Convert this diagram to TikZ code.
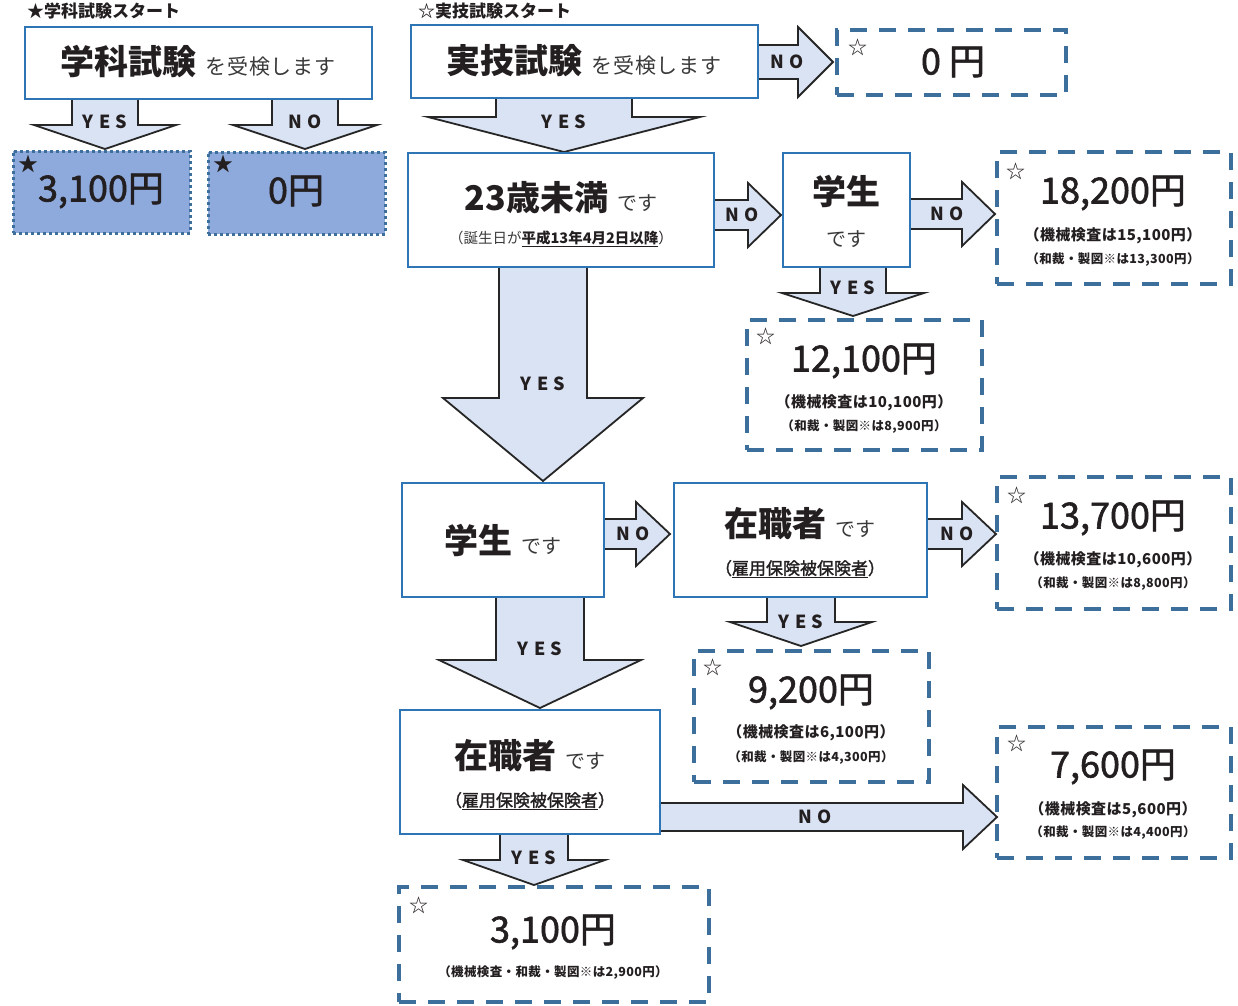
\documentclass[tikz,border=0pt]{standalone}
\usepackage{fontspec}
\setmainfont{Noto Sans CJK JP}
\newfontfamily\jplbl[LetterSpace=30]{Noto Sans CJK JP}
\newfontfamily\jpmed[FakeBold=1.6]{Noto Sans CJK JP}
\newfontfamily\jpsub[LetterSpace=3]{Noto Sans CJK JP}
\definecolor{boxblue}{HTML}{2E75B6}
\definecolor{dashblue}{HTML}{3D6F9C}
\definecolor{arrfill}{HTML}{DAE3F3}
\definecolor{starfill}{HTML}{8EA9DB}
\definecolor{txt}{HTML}{231F20}
\definecolor{soft}{HTML}{3A3A3A}
\newcommand\fs[1]{\fontsize{#1}{#1}\selectfont}
\newcommand\DArr[9]{% name, cx, ytop, shaft half, y shaft end, head half, y tip, label, label y
  \draw[arr] ({#2-#4},#3) -- ({#2+#4},#3) -- ({#2+#4},#5) -- ({#2+#6},#5) -- (#2,#7) -- ({#2-#6},#5) -- ({#2-#4},#5) -- cycle;
  \node[lbl] (#1) at (#2,#9) {#8};}
\newcommand\RArr[9]{% name, cy, xleft, shaft half, x shaft end, head half, x tip, label, label x
  \draw[arr] (#3,{#2-#4}) -- (#5,{#2-#4}) -- (#5,{#2-#6}) -- (#7,#2) -- (#5,{#2+#6}) -- (#5,{#2+#4}) -- (#3,{#2+#4}) -- cycle;
  \node[lbl] (#1) at (#9,#2) {#8};}
\newcommand\BoxN[6]{% style, name, x1, y1, x2, y2
  \node[#1, minimum width={#5-#3}, minimum height={#6-#4}, inner sep=0pt, outer sep=0pt] (#2) at ({(#3+#5)/2},{(#4+#6)/2}) {};}
\begin{document}
\begin{tikzpicture}[x=1pt,y=-1pt,
  qbox/.style={draw=boxblue, line width=1.8pt, fill=white},
  pbox/.style={draw=dashblue, line width=4pt, dash pattern=on 17pt off 12pt},
  sbox/.style={draw=dashblue, fill=starfill, line width=3pt, dash pattern=on 3pt off 3pt},
  arr/.style={draw=black!85, line width=1.8pt, fill=arrfill, line join=miter},
  lbl/.style={font=\jplbl\bfseries\fs{18}, text=txt, inner sep=0pt},
  tx/.style={text=txt, inner sep=0pt},
  price/.style={tx, font=\jpmed\fs{36}},
  subA/.style={tx, font=\jpsub\bfseries\fs{15}},
  subB/.style={tx, font=\jpsub\bfseries\fs{12.5}},
  wstar/.style={tx, font=\fs{19}},
]
\useasboundingbox (0,0) rectangle (1238,1005);
\fill[white] (0,0) rectangle (1238,1005);

% ---- arrows (drawn first, boxes cover their tops)
\DArr{a1}{105}{97}{33}{125}{71}{149}{YES}{122}
\DArr{a2}{305}{97}{33}{125}{72}{149}{NO}{122}
\DArr{a3}{564}{96}{68}{117}{136}{152}{YES}{122}
\DArr{a4}{853}{265}{33}{293}{71}{316}{YES}{288}
\DArr{a5}{543}{265}{44}{398}{100}{481}{YES}{384}
\DArr{a6}{540}{595}{44}{660}{101}{708}{YES}{649}
\DArr{a7}{801}{595}{34}{622}{71}{646}{YES}{622}
\DArr{a8}{534}{832}{34}{860}{71}{885}{YES}{858}
\RArr{r1}{62}{756}{17}{798}{35}{833}{NO}{787}
\RArr{r2}{215}{712}{15}{748}{32}{781}{NO}{742}
\RArr{r3}{214}{908}{15}{962}{32}{995}{NO}{947}
\RArr{r4}{534}{602}{15}{636}{32}{670}{NO}{633}
\RArr{r5}{534}{925}{15}{962}{32}{996}{NO}{957}
\RArr{r6}{817}{658}{14}{963}{32}{997}{NO}{815}

% ---- question boxes
\BoxN{qbox}{gk}{25}{27}{372}{99}
\BoxN{qbox}{jg}{411}{25}{758}{98}
\BoxN{qbox}{u23}{408}{153}{714}{267}
\BoxN{qbox}{gs1}{783}{153}{910}{267}
\BoxN{qbox}{gs2}{402}{483}{604}{597}
\BoxN{qbox}{zs1}{674}{483}{927}{597}
\BoxN{qbox}{zs2}{400}{710}{660}{834}

% ---- fee boxes
\BoxN{sbox}{s1}{13}{151}{190}{233}
\BoxN{sbox}{s2}{208}{152}{385}{234}
\BoxN{pbox}{p0}{837}{30}{1066}{95}
\BoxN{pbox}{p18}{997}{152}{1231}{284}
\BoxN{pbox}{p12}{747}{320}{982}{450}
\BoxN{pbox}{p13}{997}{477}{1231}{609}
\BoxN{pbox}{p92}{694}{651}{929}{782}
\BoxN{pbox}{p76}{997}{727}{1231}{858}
\BoxN{pbox}{p31}{399}{887}{709}{1002}

% ---- headings
\node[tx, anchor=west, font=\bfseries\fs{17}] (t1) at (27,11) {★学科試験スタート};
\node[tx, anchor=west, font=\bfseries\fs{17}] (t2) at (418,11) {☆実技試験スタート};

% ---- question texts
\node[tx] (gkt) at (198,62) {{\bfseries\fs{34}学科試験}\hspace{9pt}{\jpsub\fs{21}\color{soft}を受検します}};
\node[tx] (jgt) at (584,61) {{\bfseries\fs{34}実技試験}\hspace{9pt}{\jpsub\fs{21}\color{soft}を受検します}};
\node[tx] (u23t) at (561,198) {{\bfseries\fs{34}23歳未満}\hspace{9pt}{\fs{20}\color{soft}です}};
\node[tx, font=\fs{14.5}] (u23s) at (561,239) {{\color{soft}（誕生日が}\underline{\bfseries 平成13年4月2日以降}）};
\node[tx, font=\bfseries\fs{34}] (gs1t) at (846,191) {学生};
\node[tx, font=\fs{20}, text=soft] (gs1s) at (846,239) {です};
\node[tx] (gs2t) at (503,540) {{\bfseries\fs{34}学生}\hspace{9pt}{\fs{20}\color{soft}です}};
\node[tx] (zs1t) at (800,524) {{\bfseries\fs{34}在職者}\hspace{9pt}{\fs{20}\color{soft}です}};
\node[tx, font=\jpmed\fs{17}] (zs1s) at (800,569) {（\underline{雇用保険被保険者}）};
\node[tx] (zs2t) at (530,756) {{\bfseries\fs{34}在職者}\hspace{9pt}{\fs{20}\color{soft}です}};
\node[tx, font=\jpmed\fs{17}] (zs2s) at (530,801) {（\underline{雇用保険被保険者}）};

% ---- fee texts
\node[tx, font=\fs{20}] (s1star) at (28,164) {★};
\node[price] (s1t) at (101,191) {3,100円};
\node[tx, font=\fs{20}] (s2star) at (223,164) {★};
\node[price] (s2t) at (296,191) {0円};

\node[wstar] (p0s) at (858,47) {☆};
\node[price] (p0t) at (953,62) {0 円};

\node[wstar] (p18s) at (1016,171) {☆};
\node[price] (p18t) at (1113,193) {18,200円};
\node[subA] (p18a) at (1113,236) {（機械検査は15,100円）};
\node[subB] (p18b) at (1113,260) {（和裁・製図※は13,300円）};

\node[wstar] (p12s) at (766,336) {☆};
\node[price] (p12t) at (864,361) {12,100円};
\node[subA] (p12a) at (864,403) {（機械検査は10,100円）};
\node[subB] (p12b) at (864,427) {（和裁・製図※は8,900円）};

\node[wstar] (p13s) at (1017,495) {☆};
\node[price] (p13t) at (1113,518) {13,700円};
\node[subA] (p13a) at (1113,560) {（機械検査は10,600円）};
\node[subB] (p13b) at (1113,584) {（和裁・製図※は8,800円）};

\node[wstar] (p92s) at (713,667) {☆};
\node[price] (p92t) at (811,692) {9,200円};
\node[subA] (p92a) at (811,733) {（機械検査は6,100円）};
\node[subB] (p92b) at (811,758) {（和裁・製図※は4,300円）};

\node[wstar] (p76s) at (1017,743) {☆};
\node[price] (p76t) at (1113,767) {7,600円};
\node[subA] (p76a) at (1113,810) {（機械検査は5,600円）};
\node[subB] (p76b) at (1113,833) {（和裁・製図※は4,400円）};

\node[wstar] (p31s) at (419,905) {☆};
\node[price] (p31t) at (553,932) {3,100円};
\node[subB] (p31a) at (553,973) {（機械検査・和裁・製図※は2,900円）};
\end{tikzpicture}
\end{document}
